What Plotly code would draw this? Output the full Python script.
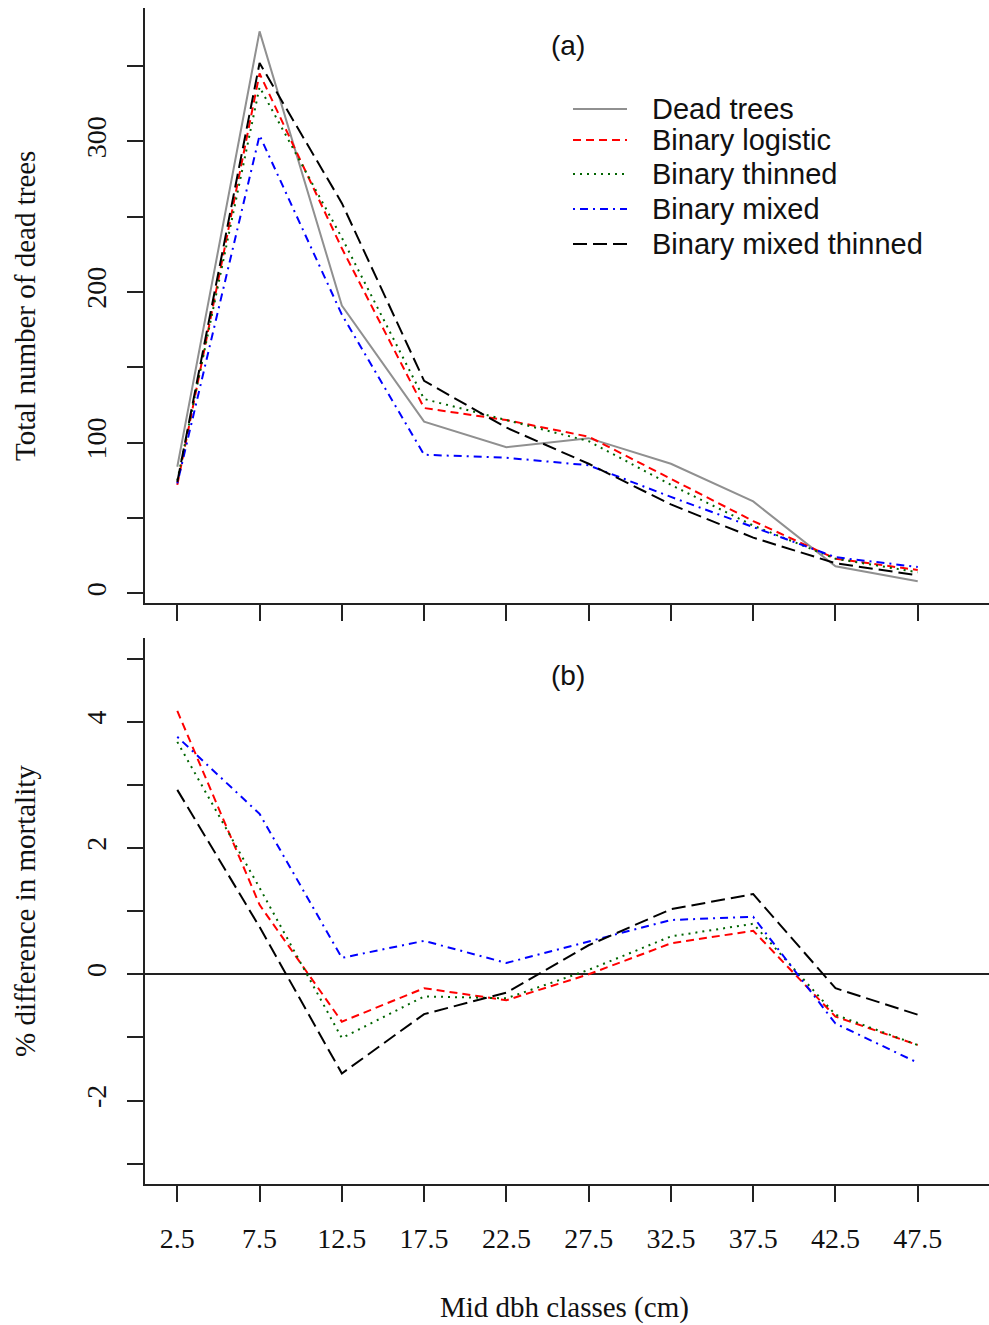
import plotly.graph_objects as go

# ---------------- data ----------------
dbh = [2.5, 7.5, 12.5, 17.5, 22.5, 27.5, 32.5, 37.5, 42.5, 47.5]
dbh_labels = ["2.5", "7.5", "12.5", "17.5", "22.5", "27.5", "32.5", "37.5", "42.5", "47.5"]

# panel (a): total number of dead trees
dead_trees = [84, 373, 191, 114, 97, 103, 86, 61, 18, 8]
binary_logistic = [72, 345, 229, 123, 115, 104, 76, 48, 23, 15.5]
binary_thinned = [75, 336, 236, 129, 115, 101, 72, 45, 23, 14]
binary_mixed = [73, 304, 185, 92, 90, 85, 64, 44, 24, 17.5]
binary_mixed_thinned = [74, 352, 259, 141, 110, 86, 59, 37, 20, 12]

# panel (b): % difference in mortality
diff_logistic = [4.17, 1.10, -0.75, -0.22, -0.41, 0.00, 0.49, 0.69, -0.67, -1.12]
diff_thinned = [3.68, 1.37, -1.01, -0.35, -0.38, 0.07, 0.60, 0.80, -0.64, -1.12]
diff_mixed = [3.76, 2.54, 0.26, 0.53, 0.18, 0.52, 0.86, 0.91, -0.78, -1.40]
diff_mixed_thinned = [2.92, 0.75, -1.57, -0.63, -0.29, 0.46, 1.03, 1.27, -0.22, -0.64]

top_ticks = [0, 50, 100, 150, 200, 250, 300, 350]
top_ticktext = ["0", "", "100", "", "200", "", "300", ""]
bot_ticks = [-3, -2, -1, 0, 1, 2, 3, 4, 5]
bot_ticktext = ["", "-2", "", "0", "", "2", "", "4", ""]

series_names = ["Dead trees", "Binary logistic", "Binary thinned", "Binary mixed", "Binary mixed thinned"]
colors = ["#909090", "#FF0000", "#006400", "#0000FF", "#000000"]
dashes = ["solid", "8px,5px", "2px,5px", "2px,5px,8px,5px", "14px,6px"]

W, H = 989, 1325
SERIF = "Liberation Serif, Times New Roman, serif"
SANS = "Liberation Sans, Arial, sans-serif"

fig = go.Figure()

top_series = [dead_trees, binary_logistic, binary_thinned, binary_mixed, binary_mixed_thinned]
for name, vals, c, d in zip(series_names, top_series, colors, dashes):
    fig.add_trace(go.Scatter(x=dbh, y=vals, mode="lines", name=name, showlegend=False,
                             line=dict(color=c, width=2, dash=d), xaxis="x", yaxis="y"))

bot_series = [diff_logistic, diff_thinned, diff_mixed, diff_mixed_thinned]
for name, vals, c, d in zip(series_names[1:], bot_series, colors[1:], dashes[1:]):
    fig.add_trace(go.Scatter(x=dbh, y=vals, mode="lines", name=name, showlegend=False,
                             line=dict(color=c, width=2, dash=d), xaxis="x2", yaxis="y2"))

xdom = [145 / W, 1.0]
xr = [0.537, 51.83]
top_dom = [1 - 602.7 / H, 1 - 8 / H]
bot_dom = [1 - 1184 / H, 1 - 638.3 / H]

axis_common = dict(showline=True, linecolor="#222222", linewidth=2, ticks="outside",
                   ticklen=16, tickwidth=1.6, tickcolor="#222222", showgrid=False,
                   mirror=False)

fig.update_layout(
    width=W, height=H,
    margin=dict(l=0, r=0, t=0, b=0),
    paper_bgcolor="white", plot_bgcolor="white",
    xaxis=dict(domain=xdom, range=xr, anchor="y", tickvals=dbh, showticklabels=False,
               zeroline=False, **axis_common),
    yaxis=dict(domain=top_dom, range=[-6.2, 388.5], anchor="x", tickvals=top_ticks,
               ticktext=top_ticktext, tickangle=-90, ticklabelstandoff=10, zeroline=False,
               tickfont=dict(family=SERIF, size=28, color="#111111"), **axis_common),
    xaxis2=dict(domain=xdom, range=xr, anchor="y2", tickvals=dbh, ticktext=dbh_labels,
                ticklabelstandoff=12, zeroline=False,
                tickfont=dict(family=SERIF, size=28, color="#111111"), **axis_common),
    yaxis2=dict(domain=bot_dom, range=[-3.32, 5.32], anchor="x2", tickvals=bot_ticks,
                ticktext=bot_ticktext, tickangle=-90, ticklabelstandoff=10,
                tickfont=dict(family=SERIF, size=28, color="#111111"),
                zeroline=True, zerolinecolor="#222222", zerolinewidth=2, **axis_common),
)

ann = []
ann.append(dict(text="Total number of dead trees", x=25 / W, y=1 - 306 / H, xref="paper", yref="paper",
                textangle=-90, showarrow=False, xanchor="center", yanchor="middle",
                font=dict(family=SERIF, size=29, color="#111111")))
ann.append(dict(text="% difference in mortality", x=25 / W, y=1 - 911 / H, xref="paper", yref="paper",
                textangle=-90, showarrow=False, xanchor="center", yanchor="middle",
                font=dict(family=SERIF, size=29, color="#111111")))
ann.append(dict(text="Mid dbh classes (cm)", x=564 / W, y=1 - 1307 / H, xref="paper", yref="paper",
                showarrow=False, xanchor="center", yanchor="middle",
                font=dict(family=SERIF, size=29, color="#111111")))
ann.append(dict(text="(a)", x=568 / W, y=1 - 46 / H, xref="paper", yref="paper",
                showarrow=False, xanchor="center", yanchor="middle",
                font=dict(family=SANS, size=28, color="#111111")))
ann.append(dict(text="(b)", x=568 / W, y=1 - 675 / H, xref="paper", yref="paper",
                showarrow=False, xanchor="center", yanchor="middle",
                font=dict(family=SANS, size=28, color="#111111")))

# legend (drawn manually to match R legend layout)
legend_rows = [109, 140, 174, 209, 244]
shapes = []
for name, c, d, py in zip(series_names, colors, dashes, legend_rows):
    shapes.append(dict(type="line", xref="paper", yref="paper", x0=573 / W, x1=627 / W,
                       y0=1 - py / H, y1=1 - py / H, line=dict(color=c, width=2, dash=d)))
    ann.append(dict(text=name, x=650 / W, y=1 - py / H, xref="paper", yref="paper",
                    showarrow=False, xanchor="left", yanchor="middle",
                    font=dict(family=SANS, size=29, color="#111111")))

fig.update_layout(annotations=ann, shapes=shapes)

fig.write_html("out.html")
